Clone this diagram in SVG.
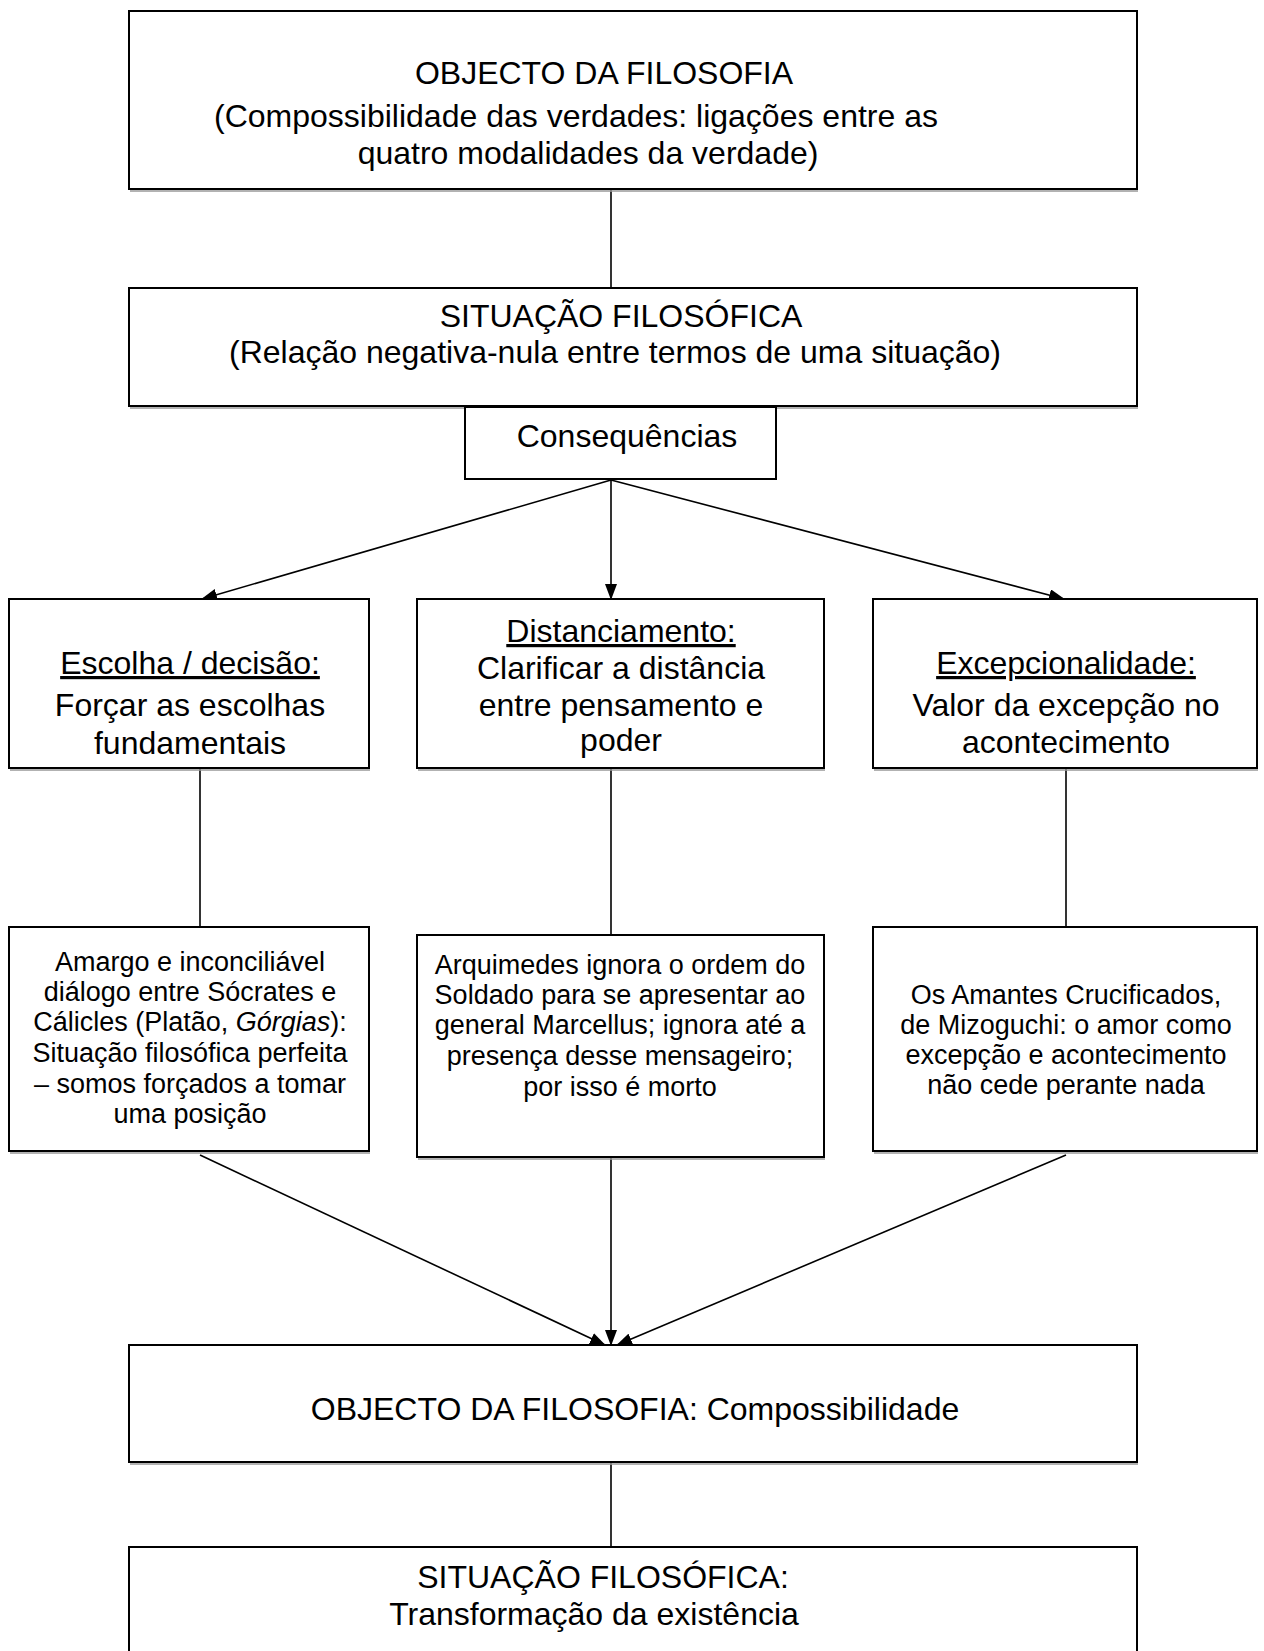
<svg xmlns="http://www.w3.org/2000/svg" width="1264" height="1651" viewBox="0 0 1264 1651">
<style>
.box{fill:#fff;stroke:#000;stroke-width:2}
.sh{fill:none;stroke:#999;stroke-width:1.5}
.t{font-family:"Liberation Sans",Arial,sans-serif;fill:#000;text-anchor:middle}
.l{font-size:32px}
.s{font-size:27px}
.u{text-decoration:underline}
.c{stroke:#000;stroke-width:1.6;fill:none}
</style>
<defs>
<marker id="ah" markerWidth="16" markerHeight="12" refX="15" refY="6" orient="auto" markerUnits="userSpaceOnUse">
<path d="M0,0 L16,6 L0,12 Z" fill="#000"/>
</marker>
</defs>
<rect width="1264" height="1651" fill="#fff"/>
<g id="connectors">
<line class="c" x1="611" y1="190" x2="611" y2="287"/>
<line class="c" x1="611" y1="480" x2="202" y2="599" marker-end="url(#ah)"/>
<line class="c" x1="611" y1="480" x2="611" y2="599" marker-end="url(#ah)"/>
<line class="c" x1="611" y1="480" x2="1064" y2="599" marker-end="url(#ah)"/>
<line class="c" x1="200" y1="769" x2="200" y2="927"/>
<line class="c" x1="611" y1="769" x2="611" y2="935"/>
<line class="c" x1="1066" y1="769" x2="1066" y2="927"/>
<line class="c" x1="200" y1="1155" x2="605" y2="1345" marker-end="url(#ah)"/>
<line class="c" x1="611" y1="1157" x2="611" y2="1345" marker-end="url(#ah)"/>
<line class="c" x1="1066" y1="1155" x2="617" y2="1345" marker-end="url(#ah)"/>
<line class="c" x1="611" y1="1463" x2="611" y2="1547"/>
</g>
<g id="n1">
<rect class="box" x="129" y="11" width="1008" height="178"/>
<line class="sh" x1="130" y1="191" x2="1138" y2="191"/>
<text class="t l" x="604" y="84">OBJECTO DA FILOSOFIA</text>
<text class="t l" x="576" y="127">(Compossibilidade das verdades: ligações entre as</text>
<text class="t l" x="588" y="164">quatro modalidades da verdade)</text>
</g>
<g id="n2">
<rect class="box" x="129" y="288" width="1008" height="118"/>
<line class="sh" x1="130" y1="408" x2="1138" y2="408"/>
<text class="t l" x="621" y="327">SITUAÇÃO FILOSÓFICA</text>
<text class="t l" x="615" y="363">(Relação negativa-nula entre termos de uma situação)</text>
</g>
<g id="n3">
<rect class="box" x="465" y="407" width="311" height="72"/>
<text class="t l" x="627" y="447">Consequências</text>
</g>
<g id="n4">
<rect class="box" x="9" y="599" width="360" height="169"/>
<line class="sh" x1="10" y1="770" x2="370" y2="770"/>
<text class="t l u" x="190" y="674">Escolha / decisão:</text>
<text class="t l" x="190" y="716">Forçar as escolhas</text>
<text class="t l" x="190" y="754">fundamentais</text>
</g>
<g id="n5">
<rect class="box" x="417" y="599" width="407" height="169"/>
<line class="sh" x1="418" y1="770" x2="825" y2="770"/>
<text class="t l u" x="621" y="642">Distanciamento:</text>
<text class="t l" x="621" y="679">Clarificar a distância</text>
<text class="t l" x="621" y="716">entre pensamento e</text>
<text class="t l" x="621" y="751">poder</text>
</g>
<g id="n6">
<rect class="box" x="873" y="599" width="384" height="169"/>
<line class="sh" x1="874" y1="770" x2="1258" y2="770"/>
<text class="t l u" x="1066" y="674">Excepcionalidade:</text>
<text class="t l" x="1066" y="716">Valor da excepção no</text>
<text class="t l" x="1066" y="753">acontecimento</text>
</g>
<g id="n7">
<rect class="box" x="9" y="927" width="360" height="224"/>
<line class="sh" x1="10" y1="1153" x2="370" y2="1153"/>
<text class="t s" x="190" y="971">Amargo e inconciliável</text>
<text class="t s" x="190" y="1001">diálogo entre Sócrates e</text>
<text class="t s" x="190" y="1031">Cálicles (Platão, <tspan font-style="italic">Górgias</tspan>):</text>
<text class="t s" x="190" y="1062">Situação filosófica perfeita</text>
<text class="t s" x="190" y="1093">– somos forçados a tomar</text>
<text class="t s" x="190" y="1123">uma posição</text>
</g>
<g id="n8">
<rect class="box" x="417" y="935" width="407" height="222"/>
<line class="sh" x1="418" y1="1159" x2="825" y2="1159"/>
<text class="t s" x="620" y="974">Arquimedes ignora o ordem do</text>
<text class="t s" x="620" y="1004">Soldado para se apresentar ao</text>
<text class="t s" x="620" y="1034">general Marcellus; ignora até a</text>
<text class="t s" x="620" y="1065">presença desse mensageiro;</text>
<text class="t s" x="620" y="1096">por isso é morto</text>
</g>
<g id="n9">
<rect class="box" x="873" y="927" width="384" height="224"/>
<line class="sh" x1="874" y1="1153" x2="1258" y2="1153"/>
<text class="t s" x="1066" y="1004">Os Amantes Crucificados,</text>
<text class="t s" x="1066" y="1034">de Mizoguchi: o amor como</text>
<text class="t s" x="1066" y="1064">excepção e acontecimento</text>
<text class="t s" x="1066" y="1094">não cede perante nada</text>
</g>
<g id="n10">
<rect class="box" x="129" y="1345" width="1008" height="117"/>
<line class="sh" x1="130" y1="1464" x2="1138" y2="1464"/>
<text class="t l" x="635" y="1420">OBJECTO DA FILOSOFIA: Compossibilidade</text>
</g>
<g id="n11">
<rect class="box" x="129" y="1547" width="1008" height="120"/>
<text class="t l" x="603" y="1588">SITUAÇÃO FILOSÓFICA:</text>
<text class="t l" x="594" y="1625">Transformação da existência</text>
</g>
</svg>
